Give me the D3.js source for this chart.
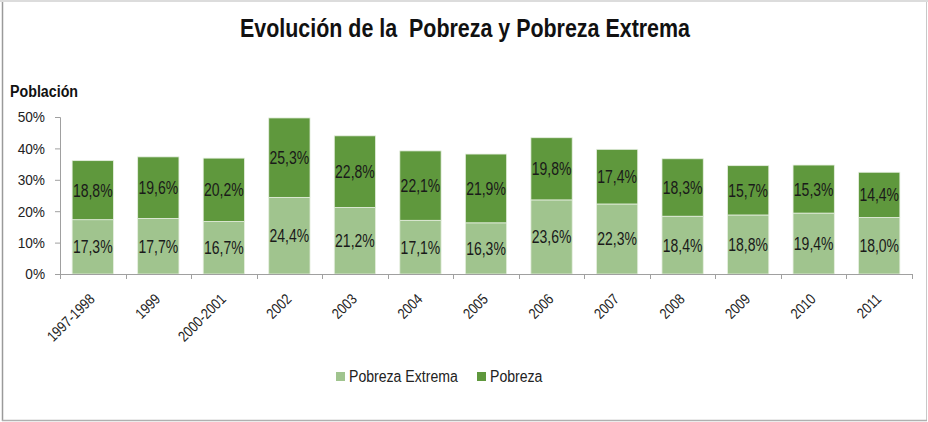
<!DOCTYPE html>
<html>
<head>
<meta charset="utf-8">
<script src="https://cdn.jsdelivr.net/npm/d3@7/dist/d3.min.js"></script>
<style>
  body { margin: 0; background: #fff; }
  text { font-family: "Liberation Sans", Arial, sans-serif; }
</style>
</head>
<body>
<div id="chart"></div>
<script>
var categories = ["1997-1998", "1999", "2000-2001", "2002", "2003", "2004", "2005",
                  "2006", "2007", "2008", "2009", "2010", "2011"];
var extrema = [17.3, 17.7, 16.7, 24.4, 21.2, 17.1, 16.3, 23.6, 22.3, 18.4, 18.8, 19.4, 18.0];
var pobreza = [18.8, 19.6, 20.2, 25.3, 22.8, 22.1, 21.9, 19.8, 17.4, 18.3, 15.7, 15.3, 14.4];
var yTicks = [0, 10, 20, 30, 40, 50];
var seriesNames = ["Pobreza Extrema", "Pobreza"];
var colors = ["#a0c48e", "#5f983d"];

var W = 928, H = 422;
var margin = {top: 117, left: 60, right: 16, bottom: 148};
var width = W - margin.left - margin.right,
    height = H - margin.top - margin.bottom;

// the original uses a narrow face, squeeze the glyphs to match
function condense(sel, factor) {
  sel.each(function() {
    var len = this.getComputedTextLength();
    d3.select(this)
      .attr("textLength", len * factor)
      .attr("lengthAdjust", "spacingAndGlyphs");
  });
}

var svg = d3.select("#chart").append("svg")
    .attr("width", W)
    .attr("height", H);

// frame
svg.append("rect").attr("x", 0).attr("y", 0).attr("width", W).attr("height", 2).attr("fill", "#dcdcdc");
svg.append("line").attr("x1", 2.5).attr("x2", 2.5).attr("y1", 2).attr("y2", 421)
   .attr("stroke", "#9a9a9a").attr("stroke-width", 1.5);
svg.append("line").attr("x1", 926.5).attr("x2", 926.5).attr("y1", 2).attr("y2", 421)
   .attr("stroke", "#c8c8c8");
svg.append("line").attr("x1", 2).attr("x2", 927).attr("y1", 420.5).attr("y2", 420.5)
   .attr("stroke", "#b0b0b0").attr("stroke-width", 1.5);

// title
var title = svg.append("text")
   .attr("x", 465).attr("y", 37)
   .attr("text-anchor", "middle")
   .attr("font-size", 26)
   .attr("font-weight", "bold")
   .attr("fill", "#111")
   .style("white-space", "pre")
   .text("Evolución de la  Pobreza y Pobreza Extrema");
title.attr("textLength", 450).attr("lengthAdjust", "spacingAndGlyphs");

var ylab = svg.append("text")
   .attr("x", 10).attr("y", 97)
   .attr("font-size", 16)
   .attr("font-weight", "bold")
   .attr("fill", "#111")
   .text("Población");
condense(ylab, 0.89);

var chart = svg.append("g")
    .attr("transform", "translate(" + margin.left + "," + margin.top + ")");

var x = d3.scaleBand().domain(categories).range([0, width]).paddingInner(0.37).paddingOuter(0.185);
var xBand = d3.scaleBand().domain(categories).range([0, width]);
var y = d3.scaleLinear().domain([0, 50]).range([height, 0]);

// stacked data
var rows = categories.map(function(c, i) {
  return {cat: c, "Pobreza Extrema": extrema[i], "Pobreza": pobreza[i]};
});
var stack = d3.stack().keys(seriesNames)(rows);

var layers = chart.selectAll(".layer")
    .data(stack)
  .enter().append("g")
    .attr("class", "layer")
    .attr("fill", function(d, i) { return colors[i]; });

layers.selectAll("rect")
    .data(function(d) { return d; })
  .enter().append("rect")
    .attr("x", function(d) { return x(d.data.cat); })
    .attr("width", x.bandwidth())
    .attr("y", function(d) { return y(d[1]); })
    .attr("height", function(d) { return y(d[0]) - y(d[1]); })
    .attr("stroke", "#e6efe0")
    .attr("stroke-width", 0.8);

var labels = layers.selectAll(".lbl")
    .data(function(d) { return d; })
  .enter().append("text")
    .attr("class", "lbl")
    .attr("x", function(d) { return x(d.data.cat) + x.bandwidth() / 2; })
    .attr("y", function(d) { return (y(d[0]) + y(d[1])) / 2 + 6.5; })
    .attr("text-anchor", "middle")
    .attr("font-size", 17.5)
    .attr("fill", "#1a1a1a")
    .text(function(d) { return (d[1] - d[0]).toFixed(1).replace(".", ",") + "%"; });
condense(labels, 0.8);

// y axis
var yAxis = d3.axisLeft(y).tickValues(yTicks).tickSize(5).tickFormat(function(d) { return d + "%"; });
var gy = chart.append("g").attr("class", "axis").call(yAxis);
gy.select(".domain").attr("stroke", "#a0a0a0");
gy.selectAll(".tick line").attr("stroke", "#a0a0a0");
var yt = gy.selectAll(".tick text").attr("font-size", 15.5).attr("fill", "#222").attr("x", -15)
  .attr("font-family", null);
condense(yt, 0.88);

// x axis line + boundary ticks
chart.append("line")
    .attr("x1", 0).attr("x2", width)
    .attr("y1", height + 0.5).attr("y2", height + 0.5)
    .attr("stroke", "#a0a0a0");
var bounds = categories.map(function(c) { return xBand(c); }).concat([width]);
chart.selectAll(".xtick")
    .data(bounds)
  .enter().append("line")
    .attr("class", "xtick")
    .attr("x1", function(d) { return Math.round(d) + 0.5; })
    .attr("x2", function(d) { return Math.round(d) + 0.5; })
    .attr("y1", height).attr("y2", height + 5)
    .attr("stroke", "#a0a0a0");

var xl = chart.selectAll(".xlbl")
    .data(categories)
  .enter().append("text")
    .attr("class", "xlbl")
    .attr("text-anchor", "end")
    .attr("font-size", 15)
    .attr("fill", "#222")
    .attr("transform", function(d) {
      return "translate(" + (xBand(d) + xBand.bandwidth() / 2 + 3) + "," + (height + 26) + ") rotate(-45)";
    })
    .text(function(d) { return d; });
condense(xl, 0.84);

// legend
var legend = svg.append("g").attr("transform", "translate(336,372)");
var legendX = [0, 141];
seriesNames.forEach(function(name, i) {
  legend.append("rect").attr("x", legendX[i]).attr("y", 0).attr("width", 9).attr("height", 9).attr("fill", colors[i]);
  var t = legend.append("text").attr("x", legendX[i] + 13).attr("y", 9.5)
    .attr("font-size", 16).attr("fill", "#222").text(name);
  condense(t, 0.88);
});
</script>
</body>
</html>
